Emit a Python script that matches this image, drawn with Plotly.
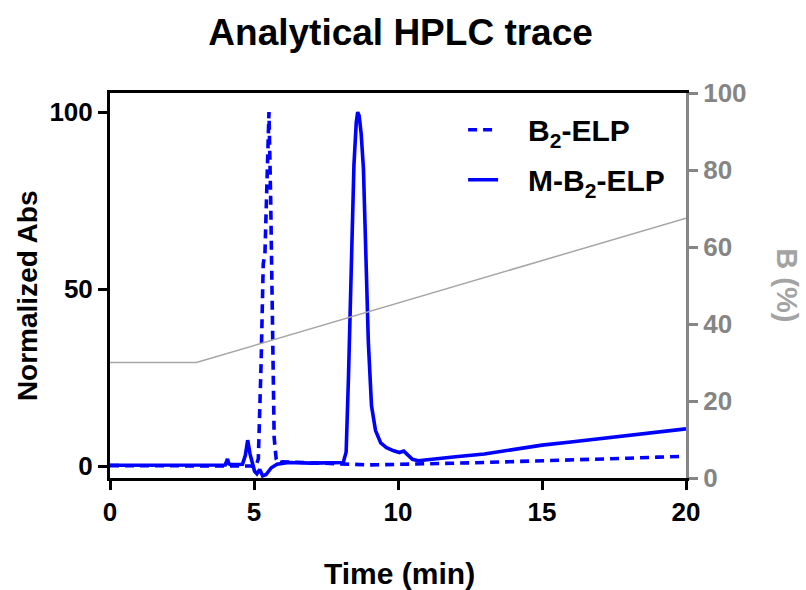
import plotly.graph_objects as go

# B2-ELP (dashed)
b2_t = [0, 2, 4, 4.9, 5.05, 5.15, 5.25, 5.32, 5.38, 5.45, 5.52, 5.58, 5.64, 5.7, 5.77, 5.85, 6.0, 6.5, 7.0, 8.0,
        9.0, 10.0, 11.0, 12.0, 13.0, 14.0, 15.0, 16.0, 17.0, 18.0, 19.0, 19.8]
b2_y = [0.1, 0.1, 0.1, 0.0, -0.3, 2, 30, 57, 60, 85, 100, 75, 35, 8, 2, 0.8, 1.2, 1.0, 0.9, 0.6,
        0.3, 0.4, 0.6, 0.8, 1.0, 1.2, 1.4, 1.7, 2.0, 2.2, 2.5, 2.7]

# M-B2-ELP (solid)
m_t = [0, 2, 4.0, 4.08, 4.13, 4.2, 4.6, 4.7, 4.78, 4.86, 4.95, 5.02, 5.1, 5.2, 5.3, 5.42, 5.6, 5.8, 6.2, 7.0,
       8.1, 8.2, 8.28, 8.34, 8.4, 8.47, 8.55, 8.6, 8.65, 8.72, 8.8, 8.88, 8.97, 9.08, 9.22, 9.4, 9.6, 9.85, 10.05,
       10.2, 10.35, 10.5, 10.7, 11.0, 12.0, 13.0, 14.0, 15.0, 16.0, 17.0, 18.0, 19.0, 20.0]
m_y = [0.2, 0.2, 0.3, 2.0, 0.6, 0.4, 0.5, 3.0, 7.3, 3.5, 1.0, -1.5, -2.2, -1.0, -2.8, -2.4, -0.5, 0.5, 1.0, 0.8,
       1.0, 4.0, 25, 45, 62, 85, 97, 100, 99, 94, 84, 60, 35, 17, 10, 6.5, 5.2, 4.3, 3.8,
       4.2, 3.0, 1.9, 1.5, 1.7, 2.6, 3.4, 4.6, 5.9, 6.8, 7.7, 8.8, 9.7, 10.5]

# Gradient B (%)
grad_t = [0, 3, 20]
grad_b = [30, 30, 67.5]

x_ticks = [0, 5, 10, 15, 20]
y_ticks = [0, 50, 100]
y2_ticks = [0, 20, 40, 60, 80, 100]

FONT = "Liberation Sans"
BLUE = "#0000ff"
GRAY = "#858585"
NB = "\u00a0"

fig = go.Figure()
fig.add_trace(go.Scatter(x=grad_t, y=grad_b, yaxis="y2", mode="lines",
                         line=dict(color="#a6a6a6", width=1.5), showlegend=False, hoverinfo="skip"))
fig.add_trace(go.Scatter(x=b2_t, y=b2_y, mode="lines", name=NB * 3 + "B<sub>2</sub>-ELP",
                         legendgroup="a",
                         line=dict(color=BLUE, width=3.6, dash="9px,6px")))
fig.add_trace(go.Scatter(x=m_t, y=m_y, mode="lines", name=NB * 3 + "M-B<sub>2</sub>-ELP",
                         legendgroup="b",
                         line=dict(color=BLUE, width=3.6)))

fig.update_layout(
    width=806, height=590,
    margin=dict(l=110, r=120, t=93, b=112),
    paper_bgcolor="white", plot_bgcolor="white",
    font=dict(family=FONT, size=26, color="black"),
    title=dict(text="<b>Analytical HPLC trace</b>", x=0.497, xanchor="center", y=0.946, yanchor="middle",
               font=dict(family=FONT, size=37, color="black")),
    xaxis=dict(range=[0, 20], tickvals=x_ticks, ticks="outside", ticklen=9, tickwidth=2.5,
               tickcolor="black", showline=True, linecolor="black", linewidth=3, mirror=True,
               showgrid=False, zeroline=False,
               tickfont=dict(family=FONT, size=26, color="black", weight="bold")),
    yaxis=dict(range=[-3.39, 105.4], tickvals=y_ticks, ticks="outside", ticklen=9, tickwidth=2.5,
               tickcolor="black", showline=True, linecolor="black", linewidth=3,
               showgrid=False, zeroline=False,
               tickfont=dict(family=FONT, size=26, color="black", weight="bold")),
    yaxis2=dict(range=[0, 100], tickvals=y2_ticks, overlaying="y", side="right", ticks="outside",
                ticklen=9, tickwidth=2.5, tickcolor=GRAY, showline=True, linecolor=GRAY, linewidth=3,
                showgrid=False, zeroline=False,
                tickfont=dict(family=FONT, size=26, color=GRAY, weight="bold")),
    legend=dict(x=0.613, y=0.972, xanchor="left", yanchor="top", bgcolor="rgba(0,0,0,0)",
                font=dict(family=FONT, size=30, color="black", weight="bold"),
                tracegroupgap=8),
    annotations=[
        dict(text="<b>Time (min)</b>", xref="paper", yref="paper", x=0.502, y=-0.247,
             showarrow=False, xanchor="center", yanchor="middle",
             font=dict(family=FONT, size=30, color="black")),
        dict(text="<b>Normalized Abs</b>", xref="paper", yref="paper", x=-0.142, y=0.473,
             textangle=-90, showarrow=False, xanchor="center", yanchor="middle",
             font=dict(family=FONT, size=28, color="black")),
        dict(text="<b>B (%)</b>", xref="paper", yref="paper", x=1.175, y=0.501,
             textangle=90, showarrow=False, xanchor="center", yanchor="middle",
             font=dict(family=FONT, size=29, color="#a3a3a3")),
    ],
)

fig.write_html("out.html")
